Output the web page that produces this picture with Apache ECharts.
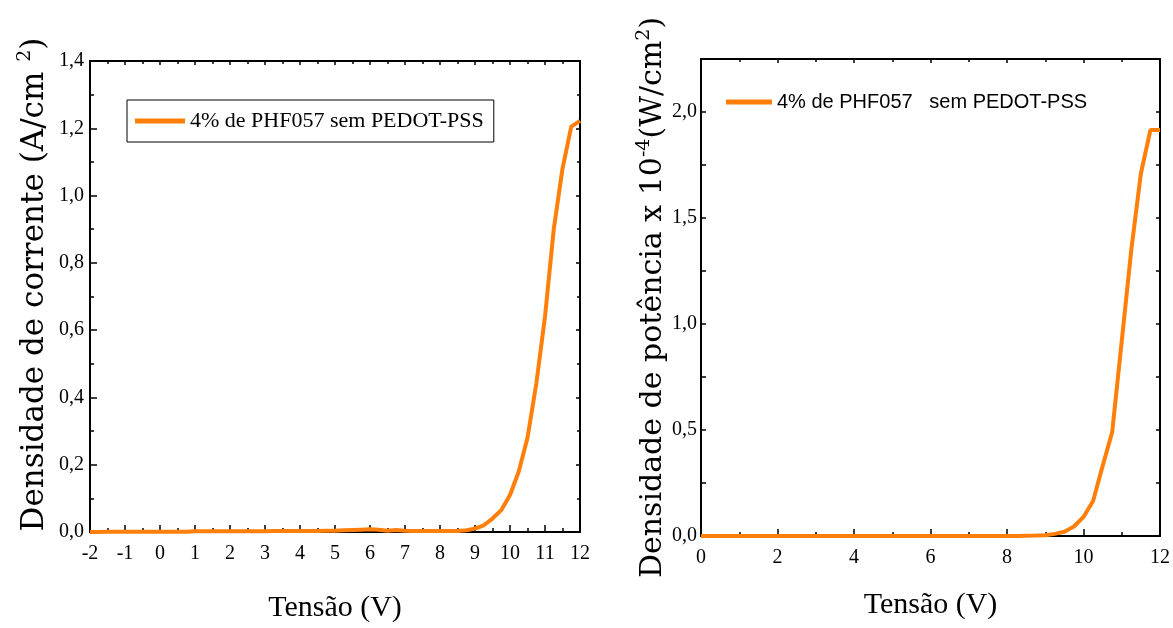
<!DOCTYPE html>
<html>
<head>
<meta charset="utf-8">
<script src="https://cdn.jsdelivr.net/npm/echarts@6/dist/echarts.min.js"></script>
<style>html,body{margin:0;padding:0;background:#fff}#c{width:1173px;height:628px}</style>
</head>
<body>
<div id="c"></div>
<script>
// ---- Data ----
const voltsLeft = [-2,-1.75,-1.5,-1.25,-1,-0.75,-0.5,-0.25,0,0.25,0.5,0.75,1,1.25,1.5,1.75,2,2.25,2.5,2.75,3,3.25,3.5,3.75,4,4.25,4.5,4.75,5,5.25,5.5,5.75,6,6.25,6.5,6.75,7,7.25,7.5,7.75,8,8.25,8.5,8.75,9,9.25,9.5,9.75,10,10.25,10.5,10.75,11,11.25,11.5,11.75,12];
const currentDensity = [0.000,0.000,0.001,0.001,0.001,0.001,0.001,0.001,0.001,0.001,0.001,0.001,0.002,0.002,0.002,0.002,0.002,0.002,0.002,0.002,0.002,0.003,0.003,0.003,0.003,0.003,0.003,0.004,0.004,0.005,0.006,0.007,0.008,0.007,0.004,0.006,0.004,0.003,0.003,0.003,0.003,0.003,0.003,0.005,0.010,0.020,0.040,0.065,0.110,0.180,0.280,0.440,0.640,0.900,1.080,1.205,1.222];
const voltsRight = [0,0.25,0.5,0.75,1,1.25,1.5,1.75,2,2.25,2.5,2.75,3,3.25,3.5,3.75,4,4.25,4.5,4.75,5,5.25,5.5,5.75,6,6.25,6.5,6.75,7,7.25,7.5,7.75,8,8.25,8.5,8.75,9,9.25,9.5,9.75,10,10.25,10.5,10.75,11,11.25,11.5,11.75,12];
const powerDensity = [0,0,0,0,0,0,0,0,0,0,0,0,0,0,0,0,0,0,0,0,0,0,0,0,0,0,0,0,0,0,0,0,0,0,0.001,0.002,0.004,0.010,0.020,0.045,0.090,0.165,0.330,0.490,0.920,1.350,1.710,1.915,1.915];
const leftXTicks = [-2,-1,0,1,2,3,4,5,6,7,8,9,10,11,12];
const leftYTicks = [0,0.2,0.4,0.6,0.8,1.0,1.2,1.4];
const rightXTicks = [0,2,4,6,8,10,12];
const rightYTicks = [0,0.5,1.0,1.5,2.0];
const nameLeft = '4% de PHF057 sem PEDOT-PSS';
const nameRight = '4% de PHF057   sem PEDOT-PSS';

// ---- Styles ----
const ORANGE = '#FF7F0A';
const serif = 'Liberation Serif';
const comma = v => v.toFixed(1).replace('.', ',');
const lineAx = {show:true, onZero:false, lineStyle:{color:'#000', width:2}};
function tickStyle(len){ return {show:true, inside:true, length:len, lineStyle:{color:'#000', width:1.5}}; }
function minorStyle(len){ return {show:true, splitNumber:2, length:len, lineStyle:{color:'#000', width:1.5}}; }
const labelFont = {fontFamily:serif, fontSize:20, color:'#000'};

function pairs(xs, ys){ return xs.map((x,i)=>[x, ys[i]]); }

const chart = echarts.init(document.getElementById('c'), null, {renderer:'canvas'});
chart.setOption({
  animation:false,
  backgroundColor:'#fff',
  grid:[
    {left:90, top:61, width:490, height:471, containLabel:false},
    {left:701, top:59, width:460, height:477, containLabel:false}
  ],
  legend:[
    {data:[nameLeft], left:127, top:100, orient:'horizontal', padding:[10,10,10,8],
     borderColor:'#000', borderWidth:1, icon:'rect', itemWidth:50, itemHeight:5, itemGap:6,
     textStyle:{fontFamily:serif, fontSize:22, color:'#000'}, selectedMode:false},
    {data:[nameRight], left:724, top:90, padding:[2,2,2,2], icon:'rect', itemWidth:46, itemHeight:5,
     textStyle:{fontFamily:'Liberation Sans', fontSize:20, color:'#000'}, selectedMode:false}
  ],
  xAxis:[
    {type:'value', gridIndex:0, min:-2, max:12, interval:1, position:'bottom',
     axisLine:lineAx, axisTick:tickStyle(7), minorTick:minorStyle(4),
     splitLine:{show:false}, axisLabel:Object.assign({margin:12, formatter:v=>String(v), customValues:leftXTicks}, labelFont),
     name:'Tensão (V)', nameLocation:'middle', nameGap:61, nameTextStyle:{fontFamily:serif, fontSize:30, color:'#000'}},
    {type:'value', gridIndex:0, min:-2, max:12, interval:1, position:'top',
     axisLine:lineAx, axisTick:tickStyle(4), minorTick:minorStyle(3),
     splitLine:{show:false}, axisLabel:{show:false}},
    {type:'value', gridIndex:1, min:0, max:12, interval:2, position:'bottom',
     axisLine:lineAx, axisTick:tickStyle(7), minorTick:minorStyle(4),
     splitLine:{show:false}, axisLabel:Object.assign({margin:12, formatter:v=>String(v), customValues:rightXTicks}, labelFont),
     name:'Tensão (V)', nameLocation:'middle', nameGap:54, nameTextStyle:{fontFamily:serif, fontSize:30, color:'#000'}},
    {type:'value', gridIndex:1, min:0, max:12, interval:2, position:'top',
     axisLine:lineAx, axisTick:tickStyle(4), minorTick:minorStyle(3), splitLine:{show:false}, axisLabel:{show:false}}
  ],
  yAxis:[
    {type:'value', gridIndex:0, min:0, max:1.4, interval:0.2, position:'left',
     axisLine:lineAx, axisTick:tickStyle(7), minorTick:minorStyle(4),
     splitLine:{show:false}, axisLabel:Object.assign({margin:6, formatter:comma, customValues:leftYTicks}, labelFont),
     name:'Densidade de corrente (A/cm {sup|2})', nameLocation:'middle', nameRotate:90, nameGap:37,
     nameTextStyle:{fontFamily:'DejaVu Serif', fontSize:31, color:'#000', padding:[0,0,0,24],
       rich:{sup:{fontFamily:'DejaVu Serif', fontSize:19, color:'#000', padding:[0,0,18,0]}}}},
    {type:'value', gridIndex:0, min:0, max:1.4, interval:0.2, position:'right',
     axisLine:lineAx, axisTick:tickStyle(4), minorTick:minorStyle(3),
     splitLine:{show:false}, axisLabel:{show:false}},
    {type:'value', gridIndex:1, min:0, max:2.25, interval:0.25, position:'left',
     axisLine:lineAx, axisTick:tickStyle(5), splitLine:{show:false},
     axisLabel:Object.assign({margin:4, formatter:comma, customValues:rightYTicks}, labelFont),
     name:'Densidade de potência x 10{sup|-4}(W/cm{sup|2})', nameLocation:'middle', nameRotate:90, nameGap:28,
     nameTextStyle:{fontFamily:'DejaVu Serif', fontSize:30, color:'#000',
       rich:{sup:{fontFamily:'DejaVu Serif', fontSize:19, color:'#000', padding:[0,0,18,0]}}}},
    {type:'value', gridIndex:1, min:0, max:2.25, interval:0.25, position:'right',
     axisLine:lineAx, axisTick:tickStyle(4), splitLine:{show:false}, axisLabel:{show:false}}
  ],
  series:[
    {name:nameLeft, type:'line', xAxisIndex:0, yAxisIndex:0, data:pairs(voltsLeft, currentDensity),
     showSymbol:false, symbol:'none', lineStyle:{color:ORANGE, width:4}, itemStyle:{color:ORANGE}, z:5},
    {name:nameRight, type:'line', xAxisIndex:2, yAxisIndex:2, data:pairs(voltsRight, powerDensity),
     showSymbol:false, symbol:'none', lineStyle:{color:ORANGE, width:4}, itemStyle:{color:ORANGE}, z:5}
  ]
});
</script>
</body>
</html>
